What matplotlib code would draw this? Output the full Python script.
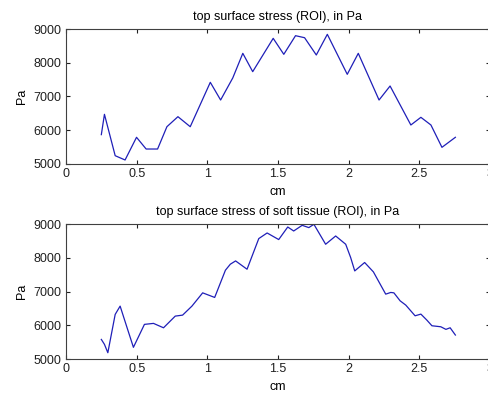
import matplotlib
matplotlib.use("Agg")
import matplotlib.pyplot as plt

# values (cm, Pa)
x_top = [0.25, 0.272, 0.348, 0.418, 0.499, 0.567, 0.648, 0.714, 0.792, 0.879,
         1.021, 1.094, 1.18, 1.251, 1.321, 1.466, 1.541, 1.624, 1.688, 1.771,
         1.849, 1.990, 2.068, 2.215, 2.293, 2.440, 2.511, 2.582, 2.660, 2.755]
pa_top = [5870, 6472, 5246, 5119, 5791, 5444, 5444, 6105, 6402, 6105,
          7420, 6896, 7550, 8279, 7736, 8723, 8250, 8802, 8742, 8230,
          8842, 7657, 8279, 6896, 7311, 6156, 6383, 6156, 5494, 5791]

x_bot = [0.25, 0.272, 0.296, 0.348, 0.383, 0.430, 0.477, 0.555, 0.619, 0.690,
         0.773, 0.825, 0.891, 0.967, 1.052, 1.128, 1.163, 1.20, 1.281, 1.364,
         1.423, 1.505, 1.569, 1.611, 1.671, 1.718, 1.754, 1.837, 1.908, 1.979,
         2.014, 2.043, 2.113, 2.175, 2.262, 2.298, 2.32, 2.364, 2.404, 2.470,
         2.511, 2.553, 2.589, 2.652, 2.688, 2.718, 2.755]
pa_bot = [5580, 5434, 5186, 6321, 6567, 5955, 5346, 6026, 6055, 5925,
          6271, 6300, 6567, 6960, 6824, 7631, 7810, 7906, 7660, 8568,
          8734, 8539, 8911, 8793, 8961, 8893, 8991, 8400, 8645, 8400,
          8007, 7610, 7859, 7581, 6922, 6972, 6960, 6724, 6597, 6280,
          6330, 6153, 5985, 5955, 5878, 5925, 5710]

titles = ["top surface stress (ROI), in Pa",
          "top surface stress of soft tissue (ROI), in Pa"]
x_ticks = [0, 0.5, 1, 1.5, 2, 2.5, 3]
x_tick_labels = ["0", "0.5", "1", "1.5", "2", "2.5", "3"]
y_ticks = [5000, 6000, 7000, 8000, 9000]

plt.rcParams["font.family"] = ["Liberation Sans", "DejaVu Sans"]
plt.rcParams["font.size"] = 9

fig = plt.figure(figsize=(4.89, 3.94), dpi=100)
W, H = 489.0, 394.0

# axes boxes in pixels: left, top, right, bottom
boxes = [(66, 29, 490, 164), (66, 224, 490, 359)]
data = [(x_top, pa_top), (x_bot, pa_bot)]

for (l, t, r, b), (xs, ys), title in zip(boxes, data, titles):
    ax = fig.add_axes([l / W, 1 - b / H, (r - l) / W, (b - t) / H])
    ax.plot(xs, ys, color="#1f1fb8", linewidth=0.9)
    ax.set_xlim(0, 3)
    ax.set_ylim(5000, 9000)
    ax.set_xticks(x_ticks)
    ax.set_xticklabels(x_tick_labels)
    ax.set_yticks(y_ticks)
    ax.tick_params(direction="in", length=3, width=0.8, top=True, right=True,
                   colors="#202020", pad=3)
    for s in ax.spines.values():
        s.set_color("#404040")
        s.set_linewidth(0.8)
    ax.set_title(title, fontsize=9, pad=6.5)
    ax.set_xlabel("cm", labelpad=4.5)
    ax.set_ylabel("Pa", labelpad=4)

fig.savefig("out.png", dpi=100)
